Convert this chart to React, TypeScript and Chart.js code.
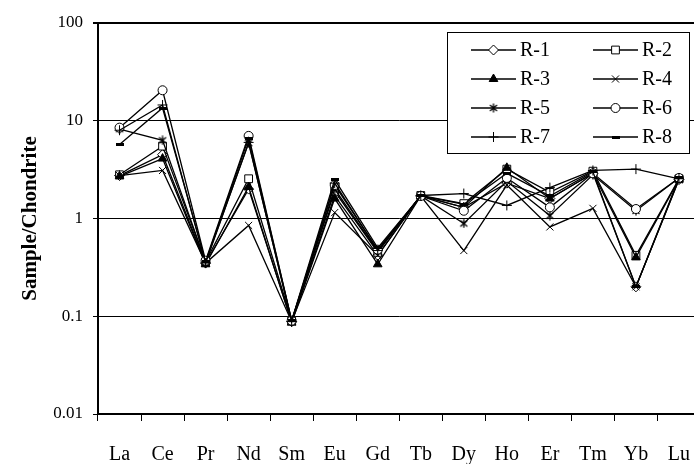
import React, { useEffect, useRef } from 'react';
import { Chart, registerables } from 'chart.js';
import { drawPoint } from 'chart.js/helpers';

Chart.register(...registerables);

const categories = ['La', 'Ce', 'Pr', 'Nd', 'Sm', 'Eu', 'Gd', 'Tb', 'Dy', 'Ho', 'Er', 'Tm', 'Yb', 'Lu'];
const seriesNames = ['R-1', 'R-2', 'R-3', 'R-4', 'R-5', 'R-6', 'R-7', 'R-8'];

const r1 = [2.75, 4.5, 0.35, 2.0, 0.088, 1.7, 0.42, 1.7, 1.3, 2.3, 1.6, 2.9, 0.2, 2.5];
const r2 = [2.8, 5.5, 0.36, 2.55, 0.09, 1.9, 0.45, 1.72, 1.42, 3.2, 1.85, 3.05, 0.42, 2.55];
const r3 = [2.7, 4.1, 0.34, 2.1, 0.086, 1.6, 0.34, 1.7, 1.3, 3.3, 1.6, 2.9, 0.4, 2.5];
const r4 = [2.75, 3.1, 0.35, 0.85, 0.088, 1.15, 0.42, 1.7, 0.47, 2.2, 0.82, 1.27, 0.2, 2.5];
const r5 = [8.2, 6.3, 0.36, 5.9, 0.09, 2.0, 0.46, 1.7, 0.89, 2.4, 1.07, 2.8, 1.2, 2.6];
const r6 = [8.5, 20.5, 0.37, 7.0, 0.09, 2.2, 0.48, 1.7, 1.2, 2.6, 1.3, 2.9, 1.25, 2.6];
const r7 = [8.0, 14.5, 0.35, 6.0, 0.088, 2.3, 0.47, 1.72, 1.8, 1.36, 2.07, 3.1, 3.2, 2.55];
const r8 = [5.7, 13.5, 0.36, 6.6, 0.09, 2.5, 0.5, 1.7, 1.4, 2.9, 1.7, 3.0, 0.2, 2.6];
const seriesValues = [r1, r2, r3, r4, r5, r6, r7, r8];

const yTickValues = [0.01, 0.1, 1, 10, 100];
const yTickLabels = ['0.01', '0.1', '1', '10', '100'];
const yTitle = 'Sample/Chondrite';

const FONT = "'Liberation Serif', 'Times New Roman', serif";
const CANVAS_W = 707;

function makeDash(): HTMLCanvasElement {
  const c = document.createElement('canvas');
  c.width = 8;
  c.height = 3;
  const g = c.getContext('2d')!;
  g.fillStyle = '#000';
  g.fillRect(0, 0, 8, 3);
  return c;
}

function makeAsterisk(): HTMLCanvasElement {
  const c = document.createElement('canvas');
  c.width = 10;
  c.height = 10;
  const g = c.getContext('2d')!;
  g.strokeStyle = '#000';
  g.lineWidth = 1.3;
  g.beginPath();
  g.moveTo(5, 0.5);
  g.lineTo(5, 9.5);
  g.moveTo(1.5, 2);
  g.lineTo(8.5, 8);
  g.moveTo(8.5, 2);
  g.lineTo(1.5, 8);
  g.stroke();
  return c;
}

const legendPlugin = {
  id: 'boxLegend',
  afterDraw(chart: any) {
    const ctx = chart.ctx;
    ctx.save();
    ctx.fillStyle = '#fff';
    ctx.fillRect(447.5, 32.5, 242, 121);
    ctx.strokeStyle = '#000';
    ctx.lineWidth = 1;
    ctx.strokeRect(447.5, 32.5, 242, 121);
    chart.data.datasets.forEach((ds: any, i: number) => {
      const col = i % 2;
      const row = Math.floor(i / 2);
      const y = 50 + row * 29;
      const x0 = col === 0 ? 471 : 593;
      ctx.strokeStyle = '#000';
      ctx.lineWidth = 1.3;
      ctx.beginPath();
      ctx.moveTo(x0, y);
      ctx.lineTo(x0 + 45, y);
      ctx.stroke();
      ctx.fillStyle = ds.pointBackgroundColor;
      ctx.strokeStyle = '#000';
      ctx.lineWidth = 1;
      drawPoint(ctx, { pointStyle: ds.pointStyle, radius: ds.pointRadius, borderWidth: 1, rotation: 0 }, x0 + 22.5, y);
      ctx.fillStyle = '#000';
      ctx.font = `20px ${FONT}`;
      ctx.textAlign = 'left';
      ctx.textBaseline = 'middle';
      ctx.fillText(ds.label, x0 + 49, y + 1);
    });
    ctx.restore();
  },
};

export default function App() {
  const ref = useRef<HTMLCanvasElement | null>(null);

  useEffect(() => {
    if (!ref.current) return;
    const styles: any[] = ['rectRot', 'rect', 'triangle', 'crossRot', makeAsterisk(), 'circle', 'cross', makeDash()];
    const radii = [5, 5.5, 5, 5, 5, 4.5, 5, 5];
    const fills = ['#fff', '#fff', '#000', '#000', '#000', '#fff', '#000', '#000'];
    const datasets = seriesNames.map((name, i) => ({
      label: name,
      data: seriesValues[i],
      borderColor: '#000',
      borderWidth: 1.3,
      pointStyle: styles[i],
      pointRadius: radii[i],
      pointBackgroundColor: fills[i],
      pointBorderColor: '#000',
      pointBorderWidth: 1,
      tension: 0,
      fill: false,
      order: 7 - i,
    }));

    const chart = new Chart(ref.current, {
      type: 'line',
      data: { labels: categories, datasets },
      plugins: [legendPlugin],
      options: {
        animation: false,
        responsive: false,
        devicePixelRatio: 1,
        layout: { padding: { top: 23, left: 0, right: 0, bottom: 0 } },
        plugins: { legend: { display: false }, tooltip: { enabled: false } },
        scales: {
          x: {
            type: 'category',
            offset: true,
            afterFit: (s: any) => { s.height = 50; s.paddingLeft = 0; s.paddingRight = 0; },
            grid: { display: true, offset: true, drawOnChartArea: false, drawTicks: true, tickLength: 7, color: '#000', lineWidth: 1 },
            border: { display: true, color: '#000', width: 2 },
            ticks: { font: { family: FONT, size: 20 }, color: '#000', padding: 22, autoSkip: false, maxRotation: 0 },
          },
          y: {
            type: 'logarithmic',
            min: 0.01,
            max: 100,
            afterBuildTicks: (s: any) => { s.ticks = yTickValues.map((v) => ({ value: v })); },
            afterFit: (s: any) => { s.width = 98; },
            ticks: {
              autoSkip: false,
              font: { family: FONT, size: 17 },
              color: '#000',
              padding: 10,
              callback: (v: any) => {
                const idx = yTickValues.indexOf(Number(v));
                return idx >= 0 ? yTickLabels[idx] : '';
              },
            },
            grid: {
              color: '#000',
              lineWidth: (c: any) => (c.tick && c.tick.value === 100 ? 2 : 1),
              tickLength: 5,
              drawTicks: true,
            },
            border: { display: true, color: '#000', width: 2 },
            title: {
              display: true,
              text: yTitle,
              color: '#000',
              font: { family: FONT, size: 21, weight: 'bold' },
              padding: { top: 18, bottom: 0 },
            },
          },
        },
      },
    });
    return () => chart.destroy();
  }, []);

  return (
    <div style={{ position: 'fixed', left: 0, top: 0, width: 694, height: 464, overflow: 'hidden', background: '#fff' }}>
      <canvas ref={ref} width={CANVAS_W} height={464} style={{ display: 'block', width: CANVAS_W, height: 464 }} />
    </div>
  );
}
